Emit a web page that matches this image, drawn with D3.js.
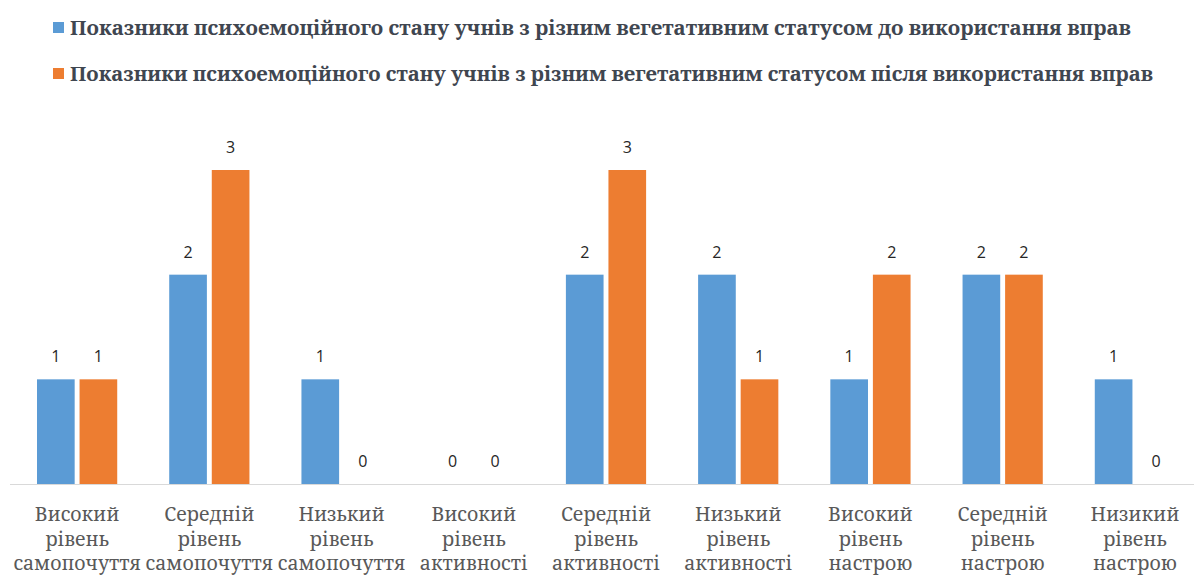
<!DOCTYPE html>
<html><head><meta charset="utf-8">
<script src="https://cdn.jsdelivr.net/npm/d3@7"></script>
<style>body{margin:0;background:#fff}svg{display:block}</style>
</head><body>
<svg id="c" width="1194" height="583"></svg>
<script>
const categories = [
  ["Високий","рівень","самопочуття"],
  ["Середній","рівень","самопочуття"],
  ["Низький","рівень","самопочуття"],
  ["Високий","рівень","активності"],
  ["Середній","рівень","активності"],
  ["Низький","рівень","активності"],
  ["Високий","рівень","настрою"],
  ["Середній","рівень","настрою"],
  ["Низикий","рівень","настрою"]
];
const seriesNames = [
  "Показники психоемоційного стану учнів з різним вегетативним статусом до використання вправ",
  "Показники психоемоційного стану учнів з різним вегетативним статусом після використання вправ"
];
const before = [1,2,1,0,2,2,1,2,1];
const after  = [1,3,0,0,3,1,2,2,0];
const colors = ["#5B9BD5","#ED7D31"];

const SERIF = "'Noto Serif','Liberation Serif','DejaVu Serif',serif";
const svg = d3.select("#c");
const baseY = 484;
const x = d3.scaleBand().domain(d3.range(categories.length)).range([11, 1201]).paddingInner(0).paddingOuter(0);
const xs = d3.scaleBand().domain([0,1]).range([26, x.bandwidth()-26]).paddingInner(0.115);
const y = d3.scaleLinear().domain([0,3]).range([baseY, 170]);

// legend
const leg = svg.append("g");
seriesNames.forEach((n,i)=>{
  const top = 22 + i*46;
  leg.append("rect").attr("x",53).attr("y",top).attr("width",11).attr("height",11).attr("fill",colors[i]);
  leg.append("text").attr("x",70).attr("y",top+13).text(n)
    .style("font-family",SERIF).style("font-weight","bold").style("font-size","19px")
    .attr("fill","#3f4650").attr("textLength", i===0 ? 1061 : 1083).attr("lengthAdjust","spacingAndGlyphs");
});

// axis line
svg.append("line").attr("x1",10).attr("x2",1194).attr("y1",baseY+0.5).attr("y2",baseY+0.5).attr("stroke","#d9d9d9").attr("stroke-width",1);

const data = [before, after];
const g = svg.append("g");
data.forEach((vals,s)=>{
  vals.forEach((v,i)=>{
    const bx = x(i) + xs(s);
    g.append("rect").attr("x",bx).attr("y",y(v)).attr("width",xs.bandwidth()).attr("height",baseY - y(v)).attr("fill",colors[s]);
    g.append("text").attr("x",bx + xs.bandwidth()/2).attr("y",y(v)-17).attr("text-anchor","middle")
      .style("font-family","'Open Sans','Liberation Sans',sans-serif").style("font-size","16px").attr("fill","#262626").text(v);
  });
});

// category labels
categories.forEach((lines,i)=>{
  const t = svg.append("text").attr("text-anchor","middle")
    .style("font-family",SERIF).style("font-size","19.5px").attr("fill","#595959");
  lines.forEach((l,j)=>{
    t.append("tspan").attr("x", x(i)+x.bandwidth()/2).attr("y",521 + j*24.5).text(l);
  });
});
</script>
</body></html>
